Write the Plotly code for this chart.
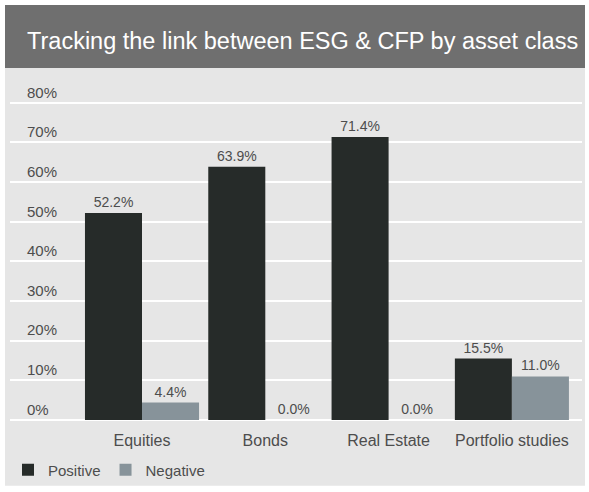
import plotly.graph_objects as go

# Share of studies by asset class (percent)
categories = ["Equities", "Bonds", "Real Estate", "Portfolio studies"]
positive = [52.2, 63.9, 71.4, 15.5]
negative = [4.4, 0.0, 0.0, 11.0]
y_ticks = [0, 10, 20, 30, 40, 50, 60, 70, 80]
y_tick_text = [f"{v}%" for v in y_ticks]
title_text = "Tracking the link between ESG & CFP by asset class"

W, H = 589, 492
Y_MAX = 85
PX_PER_UNIT = 3.975
# plot area in pixels
PL, PR, PB = 10, 582, 421
PT = PB - Y_MAX * PX_PER_UNIT


def px_x(p):
    return (p - PL) / (PR - PL)


def px_y(p):
    return (PB - p) / (PB - PT)


POS_COLOR = "#262b29"
NEG_COLOR = "#87939a"
TEXT_COLOR = "#4d4d4d"
FONT = "Liberation Sans, Arial, sans-serif"

fig = go.Figure()
fig.add_trace(go.Bar(
    name="Positive", x=categories, y=positive,
    marker=dict(color=POS_COLOR, line=dict(width=0)),
    texttemplate="%{y:.1f}%", textposition="outside",
    textfont=dict(size=14, color=TEXT_COLOR, family=FONT),
    cliponaxis=False,
))
fig.add_trace(go.Bar(
    name="Negative", x=categories, y=negative,
    marker=dict(color=NEG_COLOR, line=dict(width=0)),
    texttemplate="%{y:.1f}%", textposition="outside",
    textfont=dict(size=14, color=TEXT_COLOR, family=FONT),
    cliponaxis=False,
))

# light panel behind the whole chart and the dark title band
fig.add_shape(type="rect", xref="paper", yref="paper", layer="below",
              x0=px_x(5), x1=px_x(585), y0=px_y(487), y1=px_y(5),
              fillcolor="#e6e6e6", line=dict(width=0))
fig.add_shape(type="rect", xref="paper", yref="paper", layer="below",
              x0=px_x(5), x1=px_x(585), y0=px_y(68), y1=px_y(5),
              fillcolor="#6f6f6f", line=dict(width=0))
fig.add_annotation(text=title_text, xref="paper", yref="paper",
                   x=px_x(303), y=px_y(41), xanchor="center", yanchor="middle",
                   showarrow=False,
                   font=dict(size=23.5, color="white", family=FONT))

fig.update_layout(
    width=W, height=H,
    margin=dict(l=PL, r=W - PR, t=PT, b=H - PB, pad=0),
    paper_bgcolor="white",
    plot_bgcolor="rgba(0,0,0,0)",
    barmode="group", bargap=0.075, bargroupgap=0,
    showlegend=True,
    legend=dict(orientation="h", x=px_x(8), xanchor="left",
                y=px_y(470), yanchor="middle",
                font=dict(size=15, color=TEXT_COLOR, family=FONT),
                bgcolor="rgba(0,0,0,0)", itemclick=False),
    font=dict(family=FONT, color=TEXT_COLOR),
)
fig.update_xaxes(
    range=[(PL - 142) / 123.3, (PR - 142) / 123.3],
    showgrid=False, showline=False, zeroline=False, ticks="",
    ticklabelstandoff=9,
    tickfont=dict(size=16, color=TEXT_COLOR, family=FONT),
)
fig.update_yaxes(
    range=[0, Y_MAX], tickvals=y_ticks, ticktext=y_tick_text,
    showgrid=True, gridcolor="white", gridwidth=2,
    zeroline=True, zerolinecolor="white", zerolinewidth=2,
    showline=False, ticks="",
    ticklabelposition="inside top", ticklabelstandoff=14,
    tickfont=dict(size=15, color=TEXT_COLOR, family=FONT),
)

fig.write_html("out.html")
